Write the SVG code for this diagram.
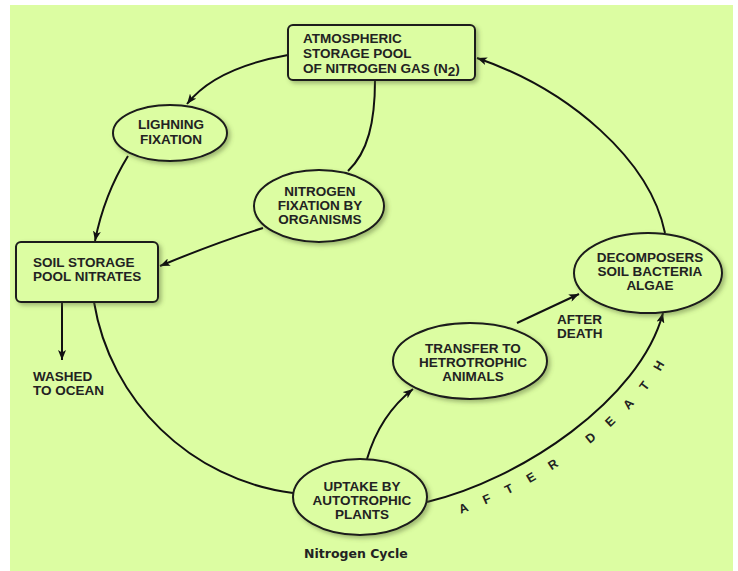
<svg xmlns="http://www.w3.org/2000/svg" width="738" height="571" viewBox="0 0 738 571">
<defs>
<style>
.bg{fill:#dcfda2}
.node{fill:#dcfda2;stroke:#1a1a1a;stroke-width:2}
.lbl{font-family:"Liberation Sans",Arial,sans-serif;font-weight:bold;font-size:13.5px;fill:#222}
.mid{text-anchor:middle}
.edge{fill:none;stroke:#111;stroke-width:2}
.curv{font-family:"Liberation Sans",Arial,sans-serif;font-weight:bold;font-size:12.5px;fill:#222;letter-spacing:17px}
.cap{font-family:"DejaVu Sans","Liberation Sans",sans-serif;font-weight:bold;font-size:12.5px;fill:#222}
</style>
<marker id="arr" viewBox="0 0 10 8" refX="10" refY="4" markerWidth="10" markerHeight="8" markerUnits="userSpaceOnUse" orient="auto">
<path d="M0,0 L10,4 L0,8 L2.5,4 Z" fill="#111"/>
</marker>
<filter id="sh" x="-20%" y="-20%" width="150%" height="150%">
<feDropShadow dx="2.5" dy="2.5" stdDeviation="2" flood-color="#556633" flood-opacity="0.45"/>
</filter>
<path id="tp" d="M432,522 C525,500 662,414 684,318"/>
</defs>
<rect x="0" y="0" width="738" height="571" fill="#ffffff"/>
<rect class="bg" x="10" y="5" width="723" height="566"/>

<g id="connectors">
<path class="edge" d="M288,55 Q215,68 187,104" marker-end="url(#arr)"/>
<path class="edge" d="M128,156 Q104,195 95,241" marker-end="url(#arr)"/>
<path class="edge" d="M375,80 C375,122 368,152 348,171"/>
<path class="edge" d="M263,228 Q215,243 160,266" marker-end="url(#arr)"/>
<line class="edge" x1="62" y1="302" x2="62" y2="360" marker-end="url(#arr)"/>
<path class="edge" d="M94,302 C110,400 190,480 293,493"/>
<path class="edge" d="M367,459 Q380,415 413,389" marker-end="url(#arr)"/>
<path class="edge" d="M517,323 L579,294" marker-end="url(#arr)"/>
<path class="edge" d="M427,502 C520,480 640,400 663,313" marker-end="url(#arr)"/>
<path class="edge" d="M665,233 C650,160 570,90 477,58" marker-end="url(#arr)"/>
</g>

<g id="atmospheric">
<rect class="node" filter="url(#sh)" x="288" y="25" width="187" height="55" rx="5"/>
<text class="lbl" x="303" y="43">ATMOSPHERIC</text>
<text class="lbl" x="303" y="58">STORAGE POOL</text>
<text class="lbl" x="303" y="73">OF NITROGEN GAS (N<tspan dy="3">2</tspan><tspan dy="-3">)</tspan></text>
</g>

<g id="lightning">
<ellipse class="node" filter="url(#sh)" cx="170" cy="133" rx="57" ry="28"/>
<text class="lbl mid" x="171" y="129">LIGHNING</text>
<text class="lbl mid" x="171" y="144">FIXATION</text>
</g>

<g id="soil">
<rect class="node" filter="url(#sh)" x="16" y="242" width="142" height="60" rx="5"/>
<text class="lbl" x="33" y="267">SOIL STORAGE</text>
<text class="lbl" x="33" y="281">POOL NITRATES</text>
</g>

<g id="washed">
<text class="lbl" x="33" y="381">WASHED</text>
<text class="lbl" x="33" y="395">TO OCEAN</text>
</g>

<g id="fixation">
<ellipse class="node" filter="url(#sh)" cx="319" cy="206" rx="65" ry="36"/>
<text class="lbl mid" x="320" y="196">NITROGEN</text>
<text class="lbl mid" x="320" y="210">FIXATION BY</text>
<text class="lbl mid" x="320" y="224">ORGANISMS</text>
</g>

<g id="transfer">
<ellipse class="node" filter="url(#sh)" cx="470" cy="361" rx="77" ry="38"/>
<text class="lbl mid" x="473" y="353">TRANSFER TO</text>
<text class="lbl mid" x="473" y="367">HETROTROPHIC</text>
<text class="lbl mid" x="473" y="381">ANIMALS</text>
</g>

<g id="decomposers">
<ellipse class="node" filter="url(#sh)" cx="648" cy="273" rx="74" ry="40"/>
<text class="lbl mid" x="650" y="262">DECOMPOSERS</text>
<text class="lbl mid" x="650" y="276">SOIL BACTERIA</text>
<text class="lbl mid" x="650" y="290">ALGAE</text>
</g>

<g id="uptake">
<ellipse class="node" filter="url(#sh)" cx="360" cy="497" rx="67" ry="38"/>
<text class="lbl mid" x="362" y="491">UPTAKE BY</text>
<text class="lbl mid" x="362" y="505">AUTOTROPHIC</text>
<text class="lbl mid" x="362" y="519">PLANTS</text>
</g>

<g id="labels">
<text class="lbl" x="557" y="324">AFTER</text>
<text class="lbl" x="557" y="338">DEATH</text>
<text class="curv"><textPath href="#tp" startOffset="30">AFTER DEATH</textPath></text>
<text class="cap" x="304" y="558">Nitrogen Cycle</text>
</g>
</svg>
